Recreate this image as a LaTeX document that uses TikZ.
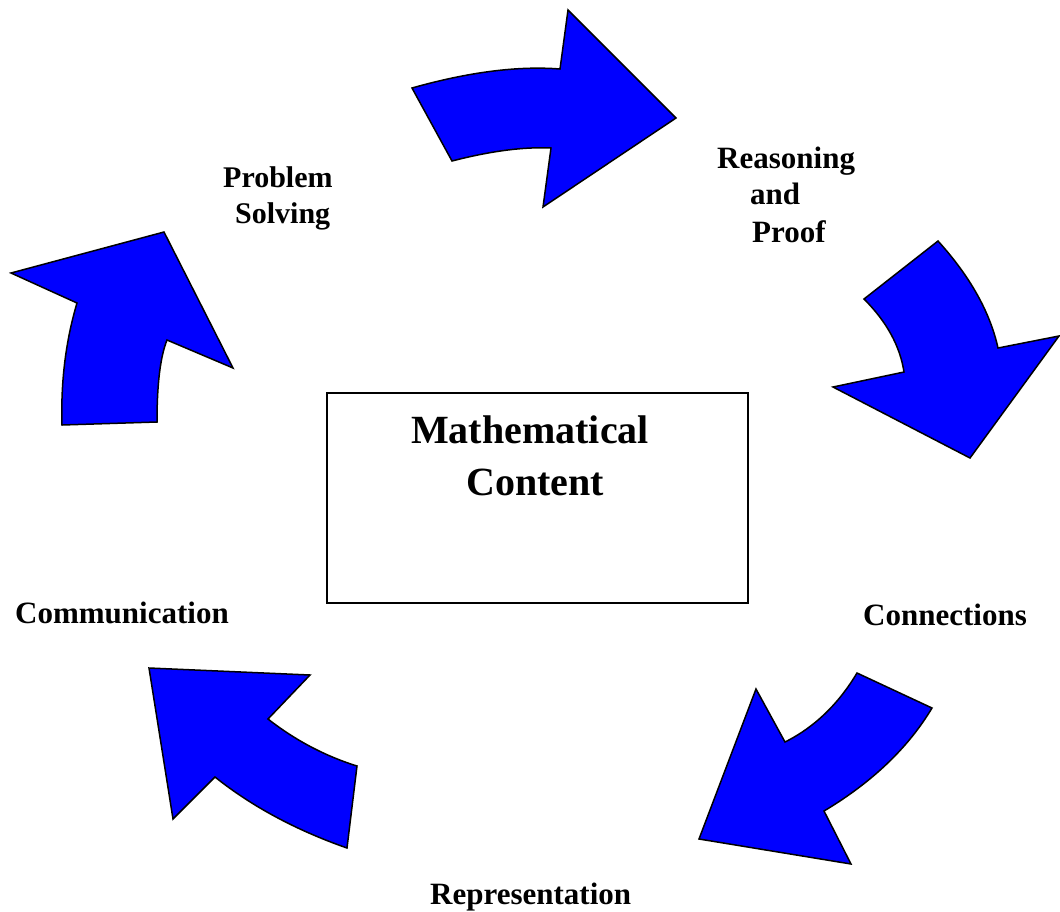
\documentclass[tikz,border=0pt]{standalone}
\usepackage{fontspec}
\setmainfont{Liberation Serif}
\tikzset{
  cyclearrow/.style={fill={rgb,255:red,0;green,0;blue,255}, draw=black, line width=1.5pt, line join=miter},
  lbl/.style={font=\bfseries\fontsize{31}{37}\selectfont, anchor=base west, inner sep=0pt},
  lblsm/.style={font=\bfseries\fontsize{30}{36}\selectfont, anchor=base west, inner sep=0pt},
  bigtxt/.style={font=\bfseries\fontsize{40}{48}\selectfont, anchor=base west, inner sep=0pt},
  contentbox/.style={draw=black, line width=1.3pt, minimum width=421pt, minimum height=210pt, inner sep=0pt}
}
\begin{document}
\begin{tikzpicture}[x=1pt,y=-1pt]
\useasboundingbox (0,0) rectangle (1060,911);

% central box
\node[contentbox] (box) at (537.5,498) {};
\node[bigtxt] (mathA) at (411,443) {Mathematical};
\node[bigtxt] (mathB) at (466,495) {Content};

% arrow 1 (top, pointing right)
\draw[cyclearrow] (412,88) -- (452,161) .. controls (490.7,151) and (523.7,146.7) .. (551,148)
  -- (543,207) -- (676,118) -- (568,10) -- (560,69)
  .. controls (518,65.7) and (468.7,72) .. (412,88) -- cycle;

% arrow 2 (right, pointing down)
\draw[cyclearrow] (938,241) -- (864,299) .. controls (886.7,321.7) and (900,346) .. (904,372)
  -- (833,387) -- (970,458) -- (1059,336) -- (998,348)
  .. controls (990,312) and (970,276.3) .. (938,241) -- cycle;

% arrow 3 (bottom right, pointing down-left)
\draw[cyclearrow] (857,673) -- (932,708) .. controls (908,748) and (872,782.3) .. (824,811)
  -- (851,864) -- (699,839) -- (756,689) -- (785,742)
  .. controls (814.3,727.3) and (838.3,704.3) .. (857,673) -- cycle;

% arrow 4 (bottom left, pointing up-left)
\draw[cyclearrow] (149,668) -- (310,675) -- (268,719)
  .. controls (295.3,740.3) and (325,756) .. (357,766) -- (347,848)
  .. controls (295.7,830) and (251.7,806.3) .. (215,777) -- (173,819) -- cycle;

% arrow 5 (left, pointing up)
\draw[cyclearrow] (11,273) -- (164,232) -- (233,368) -- (167,340)
  .. controls (160.3,356.7) and (157,384) .. (157,422) -- (62,425)
  .. controls (60.7,381.7) and (65.7,341) .. (77,303) -- cycle;

% labels
\node[lblsm] (ps1) at (223,187) {Problem};
\node[lblsm] (ps2) at (235,223) {Solving};
\node[lbl] (rp1) at (717,168) {Reasoning};
\node[lbl] (rp2) at (750,204) {and};
\node[lbl] (rp3) at (752,242) {Proof};
\node[lbl] (conn) at (863,625) {Connections};
\node[lbl] (rep) at (430,904) {Representation};
\node[lbl] (comm) at (15,623) {Communication};
\end{tikzpicture}
\end{document}
